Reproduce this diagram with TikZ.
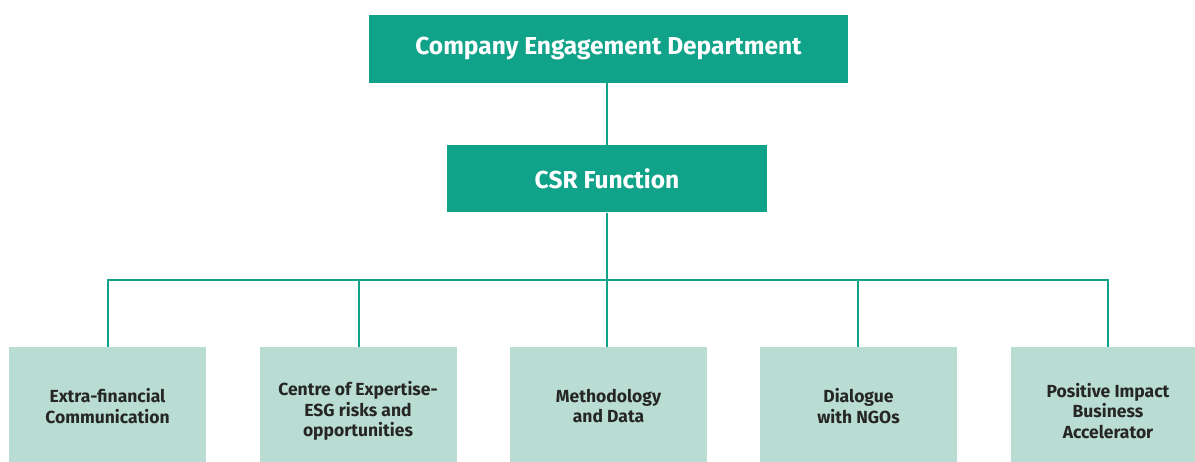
\documentclass[tikz,border=0pt]{standalone}
\usepackage{fontspec}
\setmainfont{Fira Sans}
\definecolor{teal1}{RGB}{16,163,138}
\definecolor{mint}{RGB}{185,221,211}
\begin{document}
\begin{tikzpicture}[x=1pt,y=-1pt,
  topbox/.style={fill=teal1,draw=none,text=white,font=\fontsize{24.5}{28}\selectfont\bfseries,inner sep=0pt},
  subbox/.style={fill=mint,draw=none,text=black!85,font=\fontsize{17.5}{20.5}\selectfont\bfseries,align=center,inner sep=0pt,minimum width=197pt,minimum height=115pt},
  label/.style={subbox,minimum width=0pt,minimum height=0pt,fill=none},
  link/.style={draw=teal1,line width=2pt}]
\useasboundingbox (0,0) rectangle (1195,462);
\clip (0,0) rectangle (1195,462);
\node[topbox,minimum width=479pt,minimum height=68pt] (ced) at (608.5,49) {Company Engagement Department};
\node[topbox,minimum width=320pt,minimum height=67pt] (csr) at (607,179) {CSR Function};
\node[subbox] (b1) at (107.5,404.5) {};
\node[subbox] (b2) at (358,404.5) {};
\node[subbox] (b3) at (608.5,404.5) {};
\node[subbox] (b4) at (858.5,404.5) {};
\node[subbox] (b5) at (1109.5,404.5) {};
\node[label] (t1) at (107.5,406) {Extra-financial\\Communication};
\node[label] (t2) at (358,411) {Centre of Expertise-\\ESG risks and\\opportunities};
\node[label] (t3) at (608.5,406) {Methodology\\and Data};
\node[label] (t4) at (858.5,406) {Dialogue\\with NGOs};
\node[label] (t5) at (1108,411) {Positive Impact\\Business\\Accelerator};
\coordinate (bus) at (607,280);
\draw[link] (ced.south -| csr.north) -- (csr.north);
\draw[link] (csr.south) -- (b3.north -| csr.south);
\draw[link] (b1.north -| 108,0) |- (bus) -| (b5.north -| 1108,0);
\draw[link] (359,280) -- (b2.north -| 359,0);
\draw[link] (858,280) -- (b4.north -| 858,0);
\end{tikzpicture}
\end{document}
